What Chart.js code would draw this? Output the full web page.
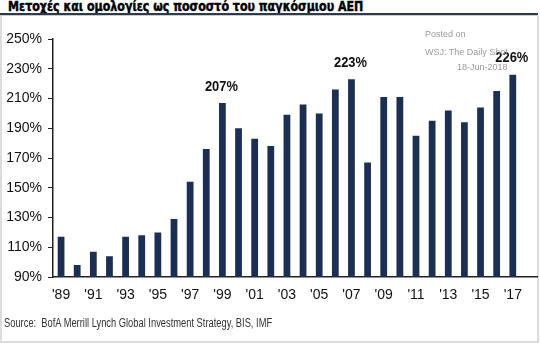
<!DOCTYPE html>
<html>
<head>
<meta charset="utf-8">
<script src="https://cdn.jsdelivr.net/npm/chart.js@4.4.0/dist/chart.umd.min.js"></script>
<style>
  html, body { margin: 0; padding: 0; background: #fff; }
  #wrap { position: relative; width: 540px; height: 344px; overflow: hidden; }
  #title {
    position: absolute; left: 8px; top: -2px;
    font: bold 14px "DejaVu Sans", "Liberation Sans", sans-serif;
    -webkit-text-stroke: 0.5px #000;
    color: #000; white-space: nowrap;
    transform-origin: left top;
  }
  #titleLine { position: absolute; left: 0; top: 13px; width: 538px; height: 2px; background: #2c3a4c; }
  #titleShade { position: absolute; left: 0; top: 15px; width: 538px; height: 1px; background: #c9ccd0; }
  #frame {
    position: absolute; left: 0; top: 16px; width: 535px; height: 325px;
    border-left: 2px solid #dcdcdc; border-right: 2px solid #dcdcdc; border-bottom: 2px solid #dcdcdc;
  }
  .wm { position: absolute; font: 9px "Liberation Sans", Arial, sans-serif; color: #9a9a9a; white-space: nowrap; }
  #source {
    position: absolute; left: 4px; top: 316px;
    font: 12.5px "Liberation Sans", Arial, sans-serif; color: #333; white-space: nowrap;
    transform-origin: left top;
  }
  canvas { position: absolute; left: 0; top: 0; }
</style>
</head>
<body>
<div id="wrap">
  <div id="frame"></div>
  <div id="title">Μετοχές και ομολογίες ως ποσοστό του παγκόσμιου ΑΕΠ</div>
  <div id="titleLine"></div>
  <div id="titleShade"></div>
  <canvas id="chart" width="540" height="344"></canvas>
  <div class="wm" style="left:425px; top:29px;">Posted on</div>
  <div class="wm" style="left:425px; top:47px;">WSJ: The Daily Shot</div>
  <div class="wm" style="left:457px; top:62px;">18-Jun-2018</div>
  <div id="source">Source:&nbsp; BofA Merrill Lynch Global Investment Strategy, BIS, IMF</div>
</div>
<script>
// stocks and bonds as % of world GDP, 1989-2017
const years = ["'89","'90","'91","'92","'93","'94","'95","'96","'97","'98","'99","'00","'01","'02",
               "'03","'04","'05","'06","'07","'08","'09","'10","'11","'12","'13","'14","'15","'16","'17"];
const shareOfGdp = [117, 98, 107, 104, 117, 118, 120, 129, 154, 176, 207, 190, 183, 178,
                    199, 206, 200, 216, 223, 167, 211, 211, 185, 195, 202, 194, 204, 215, 226];
const calloutYears = ["'99", "'07", "'17"];
const yTicks = [90, 110, 130, 150, 170, 190, 210, 230, 250];

const sans = '"Liberation Sans", Arial, sans-serif';

// squash the title and the source line to the widths they have in the picture
const t = document.getElementById('title');
t.style.transform = 'scaleX(' + (355 / t.offsetWidth) + ')';
const src = document.getElementById('source');
src.style.transform = 'scaleX(' + (268 / src.offsetWidth) + ')';

// the callouts are narrow, tall figures: draw them squeezed horizontally
const calloutPlugin = {
    id: 'callouts',
    afterDatasetsDraw(chart) {
        const ctx = chart.ctx;
        const meta = chart.getDatasetMeta(0);
        years.forEach((y, i) => {
            if (!calloutYears.includes(y)) return;
            const bar = meta.data[i];
            ctx.save();
            ctx.translate(bar.x - 1, bar.y - 9);
            ctx.scale(0.86, 1);
            ctx.font = 'bold 15px ' + sans;
            ctx.fillStyle = '#111';
            ctx.textAlign = 'center';
            ctx.textBaseline = 'bottom';
            ctx.fillText(shareOfGdp[i] + '%', 0, 0);
            ctx.restore();
        });
    }
};

const ctx = document.getElementById('chart').getContext('2d');
const chart = new Chart(ctx, {
    type: 'bar',
    data: {
        labels: years.concat(['']),   // one empty slot at the end, the axis runs past the last bar
        datasets: [{
            data: shareOfGdp,
            backgroundColor: '#1c2f52',
            borderWidth: 0,
            barPercentage: 0.42,
            categoryPercentage: 1
        }]
    },
    options: {
        responsive: false,
        animation: false,
        layout: { padding: { top: 39, right: 3, left: 0, bottom: 0 } },
        plugins: { legend: { display: false }, tooltip: { enabled: false } },
        scales: {
            x: {
                grid: { display: false, drawTicks: false },
                border: { color: '#222', width: 1.5 },
                ticks: {
                    autoSkip: false,
                    maxRotation: 0,
                    padding: 10,
                    color: '#111',
                    font: { family: sans, size: 14 },
                    callback: (v, i) => (i % 2 === 0 && i < years.length) ? years[i] : ''
                },
                afterFit: s => { s.height = 67; }
            },
            y: {
                min: 90,
                max: 250,
                afterBuildTicks: s => { s.ticks = yTicks.map(v => ({ value: v })); },
                grid: { drawOnChartArea: false, drawTicks: true, tickLength: 5, color: '#222' },
                border: { color: '#222', width: 1.5 },
                ticks: {
                    padding: 6,
                    color: '#111',
                    font: { family: sans, size: 14 },
                    callback: v => v + '%'
                },
                afterFit: s => { s.width = 53; }
            }
        }
    },
    plugins: [calloutPlugin]
});
</script>
</body>
</html>
